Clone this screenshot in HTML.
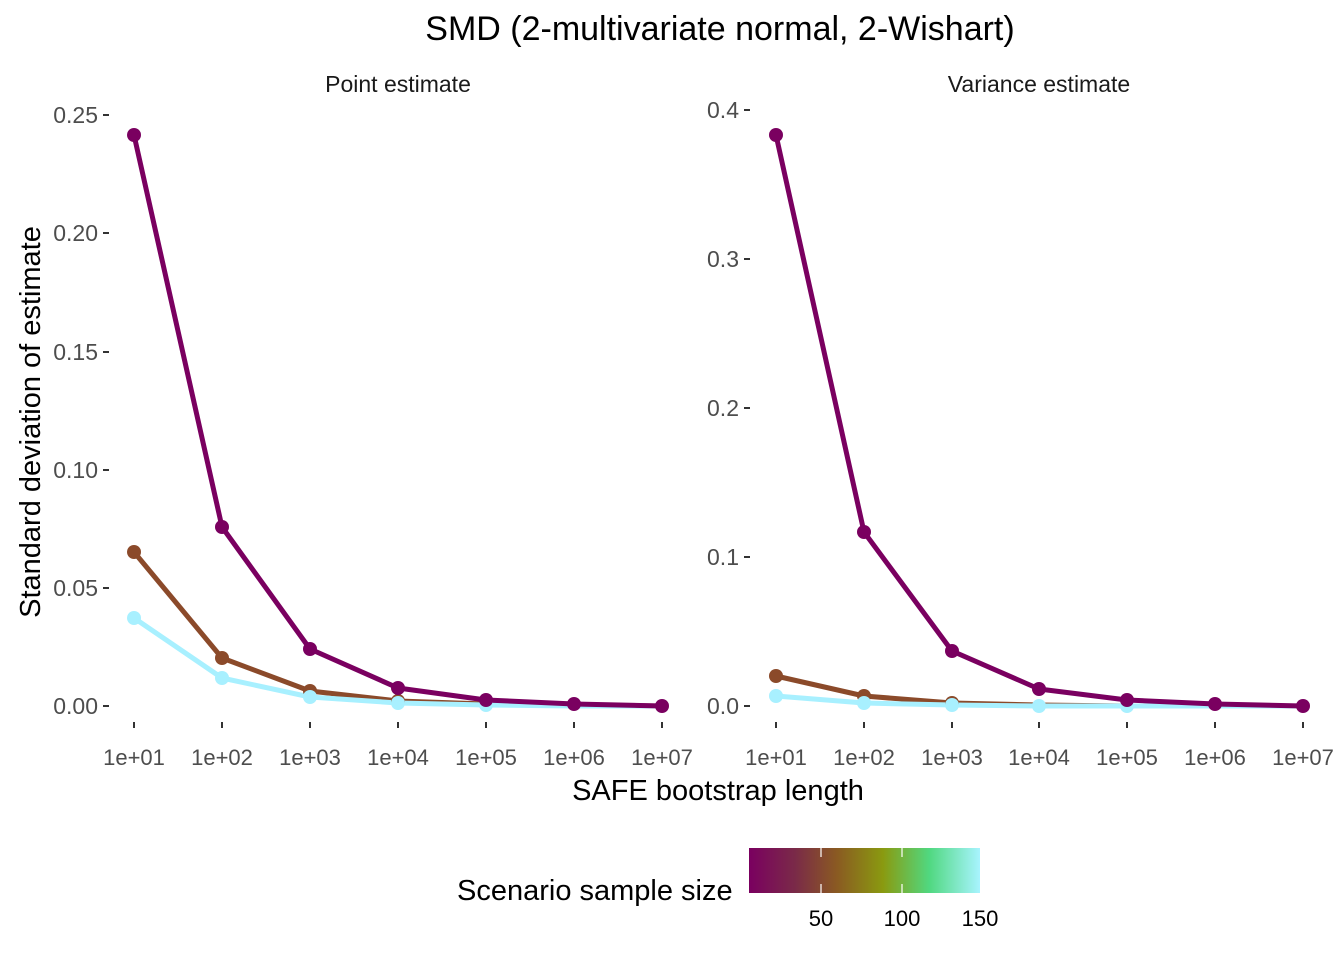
<!DOCTYPE html>
<html><head><meta charset="utf-8"><style>
body{margin:0;background:#fff;}
svg text{font-family:"Liberation Sans",Arial,sans-serif;}
</style></head><body>
<svg width="1344" height="960" viewBox="0 0 1344 960" xmlns="http://www.w3.org/2000/svg">
<defs>
<linearGradient id="g" x1="0" x2="1" y1="0" y2="0">
<stop offset="0" stop-color="#7a0060"/>
<stop offset="0.2" stop-color="#7a2a48"/>
<stop offset="0.38" stop-color="#8a5a22"/>
<stop offset="0.58" stop-color="#8a9a10"/>
<stop offset="0.78" stop-color="#50d880"/>
<stop offset="1" stop-color="#a8f4ff"/>
</linearGradient>
</defs>
<text x="720" y="40" font-size="34" text-anchor="middle" fill="#000">SMD (2-multivariate normal, 2-Wishart)</text>
<text x="398" y="92" font-size="23" text-anchor="middle" fill="#1a1a1a">Point estimate</text>
<text x="1039" y="92" font-size="23" text-anchor="middle" fill="#1a1a1a">Variance estimate</text>
<g stroke="#333" stroke-width="2">
<line x1="103" x2="109" y1="115" y2="115"/><line x1="103" x2="109" y1="233" y2="233"/><line x1="103" x2="109" y1="352" y2="352"/>
<line x1="103" x2="109" y1="470" y2="470"/><line x1="103" x2="109" y1="588" y2="588"/><line x1="103" x2="109" y1="706" y2="706"/>
<line x1="744" x2="750" y1="110" y2="110"/><line x1="744" x2="750" y1="259" y2="259"/><line x1="744" x2="750" y1="408" y2="408"/>
<line x1="744" x2="750" y1="557" y2="557"/><line x1="744" x2="750" y1="706" y2="706"/>
</g>
<g font-size="23" fill="#4d4d4d" text-anchor="end">
<text x="98" y="123">0.25</text><text x="98" y="241">0.20</text><text x="98" y="360">0.15</text>
<text x="98" y="478">0.10</text><text x="98" y="596">0.05</text><text x="98" y="714">0.00</text>
<text x="739" y="118">0.4</text><text x="739" y="267">0.3</text><text x="739" y="416">0.2</text>
<text x="739" y="565">0.1</text><text x="739" y="714">0.0</text>
</g>
<g stroke="#333" stroke-width="2">
<line x1="134" x2="134" y1="722" y2="728"/><line x1="222" x2="222" y1="722" y2="728"/><line x1="310" x2="310" y1="722" y2="728"/><line x1="398" x2="398" y1="722" y2="728"/><line x1="486" x2="486" y1="722" y2="728"/><line x1="574" x2="574" y1="722" y2="728"/><line x1="662" x2="662" y1="722" y2="728"/>
<line x1="776" x2="776" y1="722" y2="728"/><line x1="864" x2="864" y1="722" y2="728"/><line x1="952" x2="952" y1="722" y2="728"/><line x1="1039" x2="1039" y1="722" y2="728"/><line x1="1127" x2="1127" y1="722" y2="728"/><line x1="1215" x2="1215" y1="722" y2="728"/><line x1="1303" x2="1303" y1="722" y2="728"/>
</g>
<g font-size="22" fill="#4d4d4d" text-anchor="middle">
<text x="134" y="765">1e+01</text><text x="222" y="765">1e+02</text><text x="310" y="765">1e+03</text><text x="398" y="765">1e+04</text><text x="486" y="765">1e+05</text><text x="574" y="765">1e+06</text><text x="662" y="765">1e+07</text>
<text x="776" y="765">1e+01</text><text x="864" y="765">1e+02</text><text x="952" y="765">1e+03</text><text x="1039" y="765">1e+04</text><text x="1127" y="765">1e+05</text><text x="1215" y="765">1e+06</text><text x="1303" y="765">1e+07</text>
</g>
<text x="718" y="800" font-size="29" text-anchor="middle" fill="#000">SAFE bootstrap length</text>
<text transform="translate(40,422) rotate(-90)" font-size="29" text-anchor="middle" fill="#000">Standard deviation of estimate</text>
<g fill="none" stroke-width="5" stroke-linejoin="round">
<polyline stroke="#8b4a2a" points="134,552 222,658 310,691 398,701 486,704 574,705 662,706"/>
<polyline stroke="#a8f0ff" points="134,618 222,678 310,697 398,703 486,705 574,706 662,706"/>
<polyline stroke="#7a0060" points="134,135 222,527 310,649 398,688 486,700 574,704 662,706"/>
<polyline stroke="#8b4a2a" points="776,676 864,696 952,703 1039,705 1127,706 1215,706 1303,706"/>
<polyline stroke="#a8f0ff" points="776,696 864,703 952,705 1039,706 1127,706 1215,706 1303,706"/>
<polyline stroke="#7a0060" points="776,135 864,532 952,651 1039,689 1127,700 1215,704 1303,706"/>
</g>
<g fill="#8b4a2a"><circle cx="134" cy="552" r="7"/><circle cx="222" cy="658" r="7"/><circle cx="310" cy="691" r="7"/><circle cx="398" cy="701" r="7"/><circle cx="776" cy="676" r="7"/><circle cx="864" cy="696" r="7"/><circle cx="952" cy="703" r="7"/></g>
<g fill="#a8f0ff"><circle cx="134" cy="618" r="7"/><circle cx="222" cy="678" r="7"/><circle cx="310" cy="697" r="7"/><circle cx="398" cy="703" r="7"/><circle cx="486" cy="705" r="7"/><circle cx="776" cy="696" r="7"/><circle cx="864" cy="703" r="7"/><circle cx="952" cy="705" r="7"/><circle cx="1039" cy="706" r="7"/><circle cx="1127" cy="706" r="7"/></g>
<g fill="#7a0060"><circle cx="134" cy="135" r="7"/><circle cx="222" cy="527" r="7"/><circle cx="310" cy="649" r="7"/><circle cx="398" cy="688" r="7"/><circle cx="486" cy="700" r="7"/><circle cx="574" cy="704" r="7"/><circle cx="662" cy="706" r="7"/>
<circle cx="776" cy="135" r="7"/><circle cx="864" cy="532" r="7"/><circle cx="952" cy="651" r="7"/><circle cx="1039" cy="689" r="7"/><circle cx="1127" cy="700" r="7"/><circle cx="1215" cy="704" r="7"/><circle cx="1303" cy="706" r="7"/></g>
<text x="457" y="900" font-size="29" fill="#000">Scenario sample size</text>
<rect x="749" y="848" width="231" height="45" fill="url(#g)"/>
<g stroke="#fff" stroke-width="1.5" opacity="0.8">
<line x1="821" x2="821" y1="848" y2="857"/><line x1="821" x2="821" y1="884" y2="893"/>
<line x1="902" x2="902" y1="848" y2="857"/><line x1="902" x2="902" y1="884" y2="893"/>
</g>
<g font-size="22" fill="#000" text-anchor="middle"><text x="821" y="926">50</text><text x="902" y="926">100</text><text x="980" y="926">150</text></g>
</svg>
</body></html>
